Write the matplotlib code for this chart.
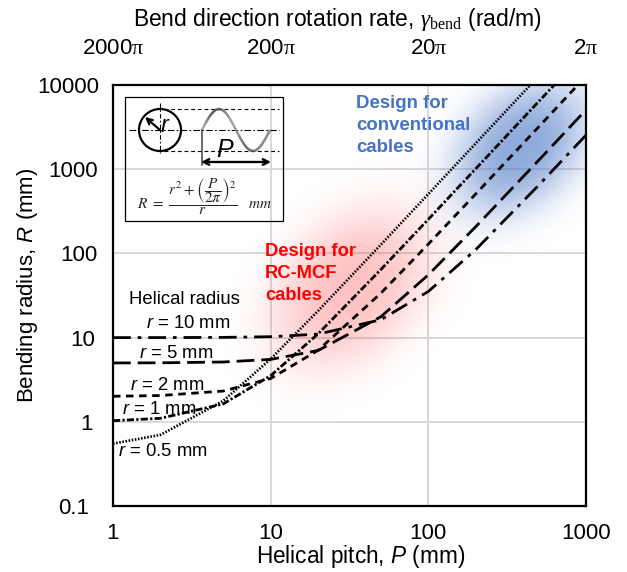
import numpy as np
import matplotlib
matplotlib.use("Agg")
import matplotlib.pyplot as plt
from matplotlib.collections import LineCollection
from matplotlib.patches import Circle, Rectangle

plt.rcParams['font.family'] = ['Liberation Sans', 'DejaVu Sans']
plt.rcParams['mathtext.fontset'] = 'custom'
plt.rcParams['mathtext.rm'] = 'Liberation Sans'
plt.rcParams['mathtext.it'] = 'Liberation Sans:italic'
plt.rcParams['mathtext.cal'] = 'Liberation Serif:italic'
plt.rcParams['mathtext.tt'] = 'Liberation Serif'

# data
pitch = [1, 2, 5, 10, 20, 50, 100, 200, 500, 1000]
r_05 = [0.55, 0.70, 1.77, 5.57, 20.8, 127, 507, 2030, 12700, 50700]
r_1 = [1.03, 1.10, 1.63, 3.53, 11.1, 64.3, 254, 1014, 6330, 25300]
r_2 = [2.01, 2.05, 2.32, 3.27, 7.07, 33.7, 129, 509, 3170, 12700]
r_5 = [5.0, 5.02, 5.13, 5.51, 7.03, 17.7, 55.7, 208, 1270, 5070]
r_10 = [10.0, 10.01, 10.06, 10.25, 11.0, 16.3, 35.3, 111, 643, 2540]

x_ticks = [1, 10, 100, 1000]
x_tick_labels = ['1', '10', '100', '1000']
y_ticks = [0.1, 1, 10, 100, 1000, 10000]
y_tick_labels = ['0.1', '1', '10', '100', '1000', '10000']
top_tick_labels = ['2000$\\mathtt{\\pi}$', '200$\\mathtt{\\pi}$', '20$\\mathtt{\\pi}$', '2$\\mathtt{\\pi}$']

W, H = 627, 572
L, R, T, B = 113, 586, 85, 506

fig = plt.figure(figsize=(W / 100, H / 100), dpi=100)
ax = fig.add_axes([L / W, 1 - B / H, (R - L) / W, (B - T) / H])
ax.set_xscale('log')
ax.set_yscale('log')


def blob(cx, cy, s_long, s_short, colour, peak):
    # soft highlight, centre and widths in picture pixels
    xx, yy = np.meshgrid(np.arange(L, R), np.arange(T, B))
    dx, dy = xx - cx, yy - cy
    u = (dx - dy) / np.sqrt(2)
    v = (dx + dy) / np.sqrt(2)
    q = (u / s_long) ** 2 + (v / s_short) ** 2
    a = peak * np.exp(-0.5 * q ** 1.4)
    rgba = np.zeros(a.shape + (4,))
    rgba[..., :3] = colour
    rgba[..., 3] = a
    ax.imshow(rgba, extent=(0, 1, 0, 1), transform=ax.transAxes, aspect='auto', zorder=1)


blob(350, 288, 72, 50, matplotlib.colors.to_rgb('#ff0000'), 0.24)
blob(520, 148, 60, 42, matplotlib.colors.to_rgb('#4472c4'), 0.6)

k = dict(color='black', zorder=3)
ax.plot(pitch, r_05, lw=1.9, ls=(0, (0.6, 0.6)), **k)
ax.plot(pitch, r_1, lw=2.0, ls=(0, (2.6, 0.8, 0.8, 0.8)), **k)
ax.plot(pitch, r_2, lw=2.0, ls=(0, (2.7, 2.0)), **k)
ax.plot(pitch, r_5, lw=2.0, ls=(0, (6.4, 2.5)), **k)
ax.plot(pitch, r_10, lw=2.0, ls=(0, (6.4, 2.5, 1.3, 2.5)), **k)

ax.set_xlim(1, 1000)
ax.set_ylim(0.1, 10000)
ax.set_xticks(x_ticks, x_tick_labels)
ax.set_yticks(y_ticks, y_tick_labels)
ax.minorticks_off()
ax.tick_params(length=0, labelsize=16)
ax.tick_params(axis='x', pad=12.5)
# the y labels are not flush in the original, they step inwards
for tick, pad in zip(ax.yaxis.get_major_ticks(), [17, 14.5, 13, 11.5, 11, 10]):
    tick.set_pad(pad)
ax.grid(True, color='#d9d9d9', lw=1.4)
ax.set_axisbelow(True)
for s in ax.spines.values():
    s.set_linewidth(1.6)
    s.set_zorder(5)
ax.set_xlabel('Helical pitch, $\\mathit{P}$ (mm)', fontsize=16.3, labelpad=-1, x=0.524)
ax.set_ylabel('Bending radius, $\\mathit{R}$ (mm)', fontsize=16, labelpad=-2, y=0.525)

top = ax.secondary_xaxis('top')
top.set_xticks(x_ticks, top_tick_labels)
top.minorticks_off()
top.tick_params(length=0, labelsize=16, pad=19)
top.spines['top'].set_visible(False)
top.set_xlabel('Bend direction rotation rate, $\\mathcal{\\gamma}_{\\mathtt{bend}}$ (rad/m)',
               fontsize=16.5, labelpad=8, x=0.475)

# overlay in picture pixels for the annotations and the inset sketch
ov = fig.add_axes([0, 0, 1, 1], zorder=10)
ov.set_xlim(0, W)
ov.set_ylim(H, 0)
ov.axis('off')

for y, s in zip([103, 125, 147], ['Design for', 'conventional', 'cables']):
    ov.text(356, y, s, color='#4472c4', fontsize=13.4, fontweight='bold', va='center')
for y, s in zip([251, 273, 295], ['Design for', 'RC-MCF', 'cables']):
    ov.text(265, y, s, color='#ff0000', fontsize=13.2, fontweight='bold', va='center')

ov.text(129, 299, 'Helical radius', fontsize=13.3, va='center')
ov.text(146, 324, '$\\mathit{r}$ = 10 mm', fontsize=13.3, va='center')
ov.text(139, 353, '$\\mathit{r}$ = 5 mm', fontsize=13.3, va='center')
ov.text(130, 386, '$\\mathit{r}$ = 2 mm', fontsize=13.3, va='center')
ov.text(122, 409, '$\\mathit{r}$ = 1 mm', fontsize=13.3, va='center')
ov.text(118, 452, '$\\mathit{r}$ = 0.5 mm', fontsize=13.3, va='center')

# inset sketch
ov.add_patch(Rectangle((125, 97), 158, 124, fill=False, ec='black', lw=0.9))
ov.add_patch(Circle((160, 130), 21, fill=False, ec='black', lw=1.6))
ov.plot([164, 279], [109, 109], color='black', lw=0.8, ls=(0, (3.5, 2.5)))
ov.plot([164, 279], [151, 151], color='black', lw=0.8, ls=(0, (3.5, 2.5)))
ov.plot([129, 279], [130, 130], color='black', lw=0.8, ls=(0, (6, 2, 1.5, 2)))
ov.plot([160, 160], [103, 153], color='black', lw=0.8, ls=(0, (4, 2, 1.5, 2)))
ov.annotate('', xy=(145, 117), xytext=(160, 130),
            arrowprops=dict(arrowstyle='->', color='black', lw=1.6, shrinkA=0, shrinkB=0))
ov.text(165, 126, 'r', fontsize=17, style='italic', va='center', ha='center')

# schematic sine of the cable path, grey to dark like the original
sx = np.linspace(202, 270, 80)
sy = 130 - 21 * np.sin((sx - 202) / 68 * 2 * np.pi)
seg = np.stack([np.column_stack([sx[:-1], sy[:-1]]), np.column_stack([sx[1:], sy[1:]])], axis=1)
shade = 0.55 + 0.25 * np.cos((sx[:-1] - 202) / 68 * 2 * np.pi * 2 + 0.6) * np.linspace(1, 0.2, 79)
ov.add_collection(LineCollection(seg, colors=[(g, g, g) for g in np.clip(shade - 0.1, 0, 1)], lw=1.8))
ov.plot([202, 202], [130, 165], color='#444444', lw=1.1)
ov.annotate('', xy=(201, 162), xytext=(271, 162),
            arrowprops=dict(arrowstyle='<->', color='black', lw=1.7, shrinkA=0, shrinkB=0))
ov.text(225, 150, 'P', fontsize=18, style='italic', va='center', ha='center')
ov.text(205, 197,
        '$R\\ =\\ \\dfrac{r^2 + \\left(\\dfrac{P}{2\\pi}\\right)^2}{r}\\quad mm$',
        fontsize=11, math_fontfamily='stix', va='center', ha='center', color='#222222')

fig.savefig('out.png', dpi=100)
